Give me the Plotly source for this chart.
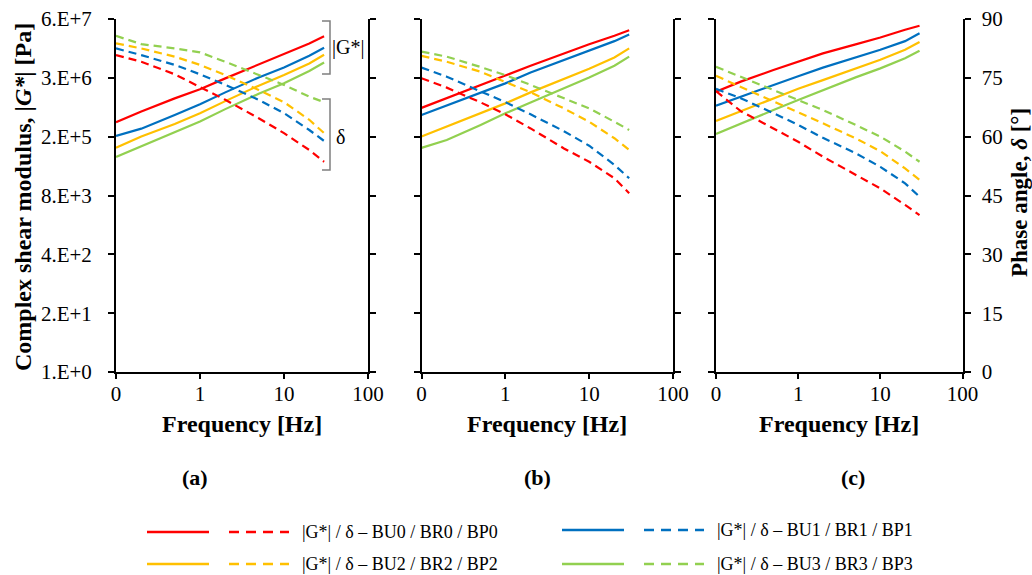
import plotly.graph_objects as go
import math

# ---------------- data ----------------
FREQ = [0.1, 0.2, 0.5, 1, 2, 5, 10, 20, 30]

# panel (a): |G*| [Pa] and phase angle [deg] for mixes 0..3
G_A0 = [3.2e5, 5.5e5, 1.07e6, 1.7e6, 2.95e6, 6.0e6, 1.0e7, 1.74e7, 2.5e7]
G_A1 = [1.6e5, 2.3e5, 4.6e5, 7.9e5, 1.45e6, 3.1e6, 5.1e6, 9.3e6, 1.4e7]
G_A2 = [8.7e4, 1.55e5, 2.9e5, 5.0e5, 9.3e5, 2.04e6, 3.5e6, 6.3e6, 9.8e6]
G_A3 = [5.5e4, 9.5e4, 1.9e5, 3.3e5, 6.2e5, 1.35e6, 2.3e6, 4.3e6, 6.6e6]
D_A0 = [80.8, 79.1, 75.9, 72.7, 69.4, 64.7, 60.9, 56.6, 53.6]
D_A1 = [82.5, 80.8, 78.3, 75.9, 73.2, 69.4, 66.0, 61.7, 58.9]
D_A2 = [83.8, 82.5, 80.4, 78.3, 75.7, 71.9, 68.8, 64.3, 60.9]
D_A3 = [85.7, 83.6, 82.5, 81.5, 79.1, 75.7, 73.2, 70.2, 68.8]

# panel (b)
G_B0 = [6.6e5, 1.07e6, 2.04e6, 3.4e6, 5.6e6, 1.05e7, 1.66e7, 2.57e7, 3.39e7]
G_B1 = [4.6e5, 7.4e5, 1.38e6, 2.29e6, 3.98e6, 7.6e6, 1.2e7, 1.95e7, 2.75e7]
G_B2 = [1.54e5, 2.55e5, 5.0e5, 8.3e5, 1.45e6, 2.9e6, 4.8e6, 8.5e6, 1.35e7]
G_B3 = [8.7e4, 1.29e5, 2.75e5, 5.0e5, 8.7e5, 1.78e6, 3.1e6, 5.6e6, 8.9e6]
D_B0 = [74.9, 72.5, 68.8, 65.7, 62.1, 57.0, 53.6, 49.4, 45.6]
D_B1 = [77.6, 75.3, 71.6, 68.8, 65.7, 61.4, 57.7, 52.8, 49.4]
D_B2 = [80.6, 79.1, 76.6, 74.0, 71.3, 67.2, 63.8, 59.6, 56.6]
D_B3 = [81.7, 80.4, 77.8, 75.7, 73.2, 69.8, 67.2, 63.8, 61.7]

# panel (c)
G_C0 = [1.5e6, 2.5e6, 4.5e6, 6.9e6, 1.05e7, 1.66e7, 2.34e7, 3.47e7, 4.27e7]
G_C1 = [7.4e5, 1.17e6, 2.1e6, 3.3e6, 5.1e6, 8.5e6, 1.26e7, 1.95e7, 2.9e7]
G_C2 = [3.4e5, 5.5e5, 1.05e6, 1.74e6, 2.7e6, 4.9e6, 7.6e6, 1.26e7, 1.86e7]
G_C3 = [1.75e5, 3.0e5, 5.9e5, 9.8e5, 1.63e6, 3.1e6, 4.9e6, 8.2e6, 1.2e7]
D_C0 = [71.6, 66.5, 62.1, 58.7, 54.9, 50.2, 46.8, 42.6, 40.0]
D_C1 = [72.2, 69.8, 66.0, 63.0, 59.7, 55.8, 52.3, 48.1, 44.7]
D_C2 = [75.5, 72.7, 69.1, 66.4, 63.4, 59.6, 56.3, 51.9, 49.0]
D_C3 = [77.8, 75.3, 71.9, 69.4, 66.8, 63.0, 60.0, 56.2, 53.6]

SERIES_LABELS = ["|G*| / δ – BU0 / BR0 / BP0", "|G*| / δ – BU1 / BR1 / BP1",
                 "|G*| / δ – BU2 / BR2 / BP2", "|G*| / δ – BU3 / BR3 / BP3"]
PANEL_LABELS = ["(a)", "(b)", "(c)"]
G_TICK_TEXT = ["1.E+0", "2.E+1", "4.E+2", "8.E+3", "2.E+5", "3.E+6", "6.E+7"]
G_MAX = 6e7
D_TICKS = [0, 15, 30, 45, 60, 75, 90]
X_TICKS = [0.1, 1, 10, 100]
X_TICK_TEXT = ["0", "1", "10", "100"]

COLORS = ["#FF0000", "#0070C0", "#FFC000", "#92D050"]
FONT = "Liberation Serif"

G_PANELS = [[G_A0, G_A1, G_A2, G_A3], [G_B0, G_B1, G_B2, G_B3], [G_C0, G_C1, G_C2, G_C3]]
D_PANELS = [[D_A0, D_A1, D_A2, D_A3], [D_B0, D_B1, D_B2, D_B3], [D_C0, D_C1, D_C2, D_C3]]

# ---------------- layout geometry (pixels) ----------------
W, H = 1032, 575
PX_X = [(116, 368), (421.5, 673), (716, 962.5)]
PY_TOP, PY_BOT = 19, 372


def fx(px):
    return px / W


def fy(py):
    return 1 - py / H


fig = go.Figure()
layout = dict(
    width=W, height=H, autosize=False,
    margin=dict(l=0, r=0, t=0, b=0, pad=0, autoexpand=False),
    paper_bgcolor="white", plot_bgcolor="rgba(0,0,0,0)",
    showlegend=False, font=dict(family=FONT, color="black", size=21),
)

logmax = math.log10(G_MAX)
g_tickvals = [10 ** (logmax * k / 6) for k in range(7)]

for p in range(3):
    xa = "x" if p == 0 else f"x{p + 1}"
    yl = "y" if p == 0 else f"y{2 * p + 1}"
    yr = f"y{2 * p + 2}"
    xname = "xaxis" if p == 0 else f"xaxis{p + 1}"
    ylname = "yaxis" if p == 0 else f"yaxis{2 * p + 1}"
    yrname = f"yaxis{2 * p + 2}"
    dom = [fx(PX_X[p][0]), fx(PX_X[p][1])]
    ydom = [fy(PY_BOT), fy(PY_TOP)]

    layout[xname] = dict(type="log", range=[-1, 2], domain=dom, anchor=yl,
                         tickvals=X_TICKS, ticktext=X_TICK_TEXT, ticks="outside",
                         ticklen=5, tickwidth=2, tickcolor="black", showline=True,
                         linewidth=2, linecolor="black", showgrid=False, zeroline=False,
                         tickfont=dict(size=21), ticklabelstandoff=-3, automargin=False)
    layout[f"xaxis{p + 4}"] = dict(type="log", range=[-1, 2], overlaying=xa, anchor=yl,
                                   side="bottom", tickvals=X_TICKS, ticks="inside",
                                   ticklen=5, tickwidth=2, tickcolor="black",
                                   showticklabels=False, showline=False, showgrid=False,
                                   zeroline=False, automargin=False)
    layout[ylname] = dict(type="log", range=[0, logmax], domain=ydom, anchor=xa,
                          tickvals=g_tickvals, ticktext=G_TICK_TEXT,
                          showticklabels=(p == 0), ticks="outside", ticklen=6,
                          tickwidth=2, tickcolor="black", showline=True, linewidth=2,
                          linecolor="black", showgrid=False, zeroline=False,
                          tickfont=dict(size=21), ticklabelstandoff=12, automargin=False)
    layout[yrname] = dict(range=[0, 90], overlaying=yl, side="right", anchor=xa,
                          tickvals=D_TICKS, showticklabels=(p == 2), ticks="outside",
                          ticklen=6, tickwidth=2, tickcolor="black", showline=True,
                          linewidth=2, linecolor="black", showgrid=False, zeroline=False,
                          tickfont=dict(size=21), ticklabelstandoff=7, automargin=False)

    for s in range(4):
        fig.add_trace(go.Scatter(x=FREQ, y=D_PANELS[p][s], mode="lines", xaxis=xa, yaxis=yr,
                                 line=dict(color=COLORS[s], width=2.2, dash="8px,5px"),
                                 name=SERIES_LABELS[s] + " (δ)"))
    for s in range(4):
        fig.add_trace(go.Scatter(x=FREQ, y=G_PANELS[p][s], mode="lines", xaxis=xa, yaxis=yl,
                                 line=dict(color=COLORS[s], width=2.2),
                                 name=SERIES_LABELS[s] + " (|G*|)"))

annotations = []
shapes = []


def ann(text, px, py, size=22, angle=0, xanchor="center"):
    annotations.append(dict(text=text, x=fx(px), y=fy(py), xref="paper", yref="paper",
                            showarrow=False, textangle=angle, xanchor=xanchor,
                            yanchor="middle", font=dict(size=size, family=FONT, color="black")))


# axis titles
ann("<b>Complex shear modulus, |<i>G*</i>| [Pa]</b>", 23, 197, size=24, angle=-90)
ann("<b>Phase angle, <i>δ</i> [°]</b>", 1019, 193, size=23, angle=-90)
for p in range(3):
    cx = (PX_X[p][0] + PX_X[p][1]) / 2
    ann("<b>Frequency [Hz]</b>", cx, 424, size=24)
for p, cx in enumerate([195, 537, 853]):
    ann(f"<b>{PANEL_LABELS[p]}</b>", cx, 477, size=22)

# brackets in panel (a)
GREY = "#7F7F7F"
for (t, b) in [(21, 74), (99, 170)]:
    path = f"M {fx(322)},{fy(t)} L {fx(330)},{fy(t)} L {fx(330)},{fy(b)} L {fx(322)},{fy(b)}"
    shapes.append(dict(type="path", path=path, xref="paper", yref="paper",
                       line=dict(color=GREY, width=1.5)))
ann("|G*|", 348, 47, size=20)
ann("δ", 340, 137, size=20)

# legend (drawn manually to mimic the two-sample entries)
leg_pos = [(147, 532, 0), (562, 530, 1), (147, 564, 2), (562, 564, 3)]
for (lx, ly, s) in leg_pos:
    shapes.append(dict(type="line", xref="paper", yref="paper", x0=fx(lx), x1=fx(lx + 62),
                       y0=fy(ly), y1=fy(ly), line=dict(color=COLORS[s], width=2.5)))
    shapes.append(dict(type="line", xref="paper", yref="paper", x0=fx(lx + 82), x1=fx(lx + 142),
                       y0=fy(ly), y1=fy(ly), line=dict(color=COLORS[s], width=2.5,
                                                       dash="10px,7px")))
    ann(SERIES_LABELS[s], lx + 153, ly, size=18, xanchor="left")

layout["annotations"] = annotations
layout["shapes"] = shapes
fig.update_layout(**layout)

fig.write_html(
    "out.html",
    config={"displayModeBar": False},
    post_script=("document.documentElement.style.overflow='hidden';"
                 "document.body.style.overflow='hidden';"
                 "document.body.style.margin='0';"),
)
